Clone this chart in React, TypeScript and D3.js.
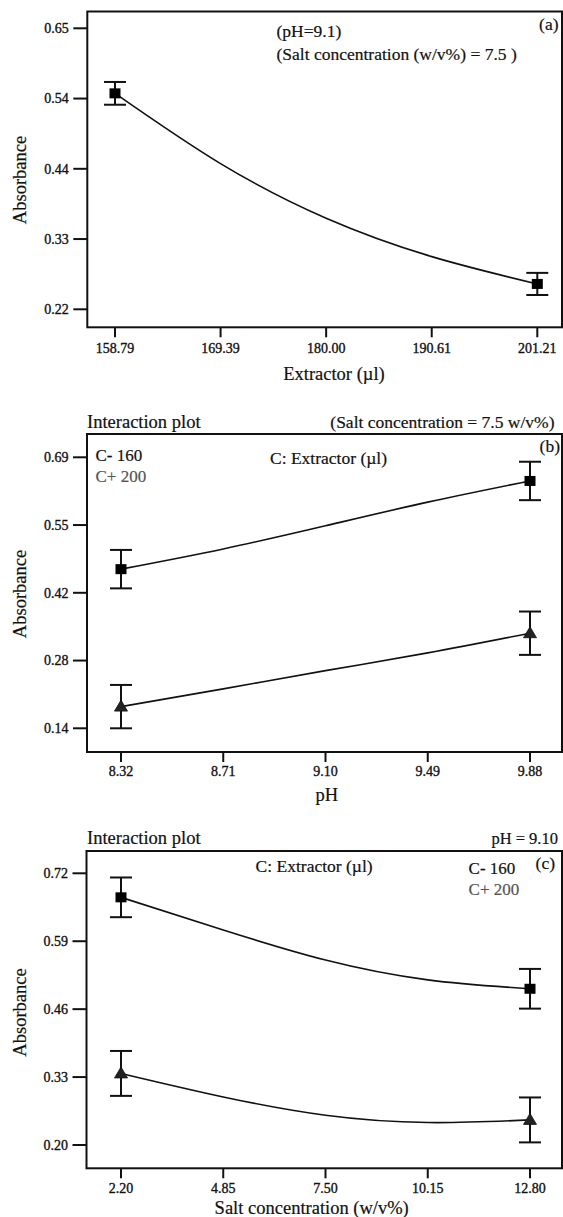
import React from "react";
import * as d3 from "d3";

// ---------- DATA ----------
// Panel (a): Extractor effect
const A_X = [158.79, 201.21];
const A_Y = [0.551, 0.258];
const A_ERR = [0.0175, 0.017];
const A_CURVE_X = [158.79, 169.39, 180.0, 190.61, 201.21];
const A_CURVE_Y = [0.551, 0.443, 0.359, 0.3, 0.258];
const A_XTICKS = [158.79, 169.395, 180.0, 190.605, 201.21];
const A_XLABELS = ["158.79", "169.39", "180.00", "190.61", "201.21"];
const A_YTICKS = [0.219, 0.327, 0.435, 0.543, 0.651];
const A_YLABELS = ["0.22", "0.33", "0.44", "0.54", "0.65"];

// Panel (b): pH x Extractor interaction
const B_X = [8.32, 9.88];
const B_LOW_Y = [0.463, 0.642];
const B_LOW_ERR = [0.039, 0.039];
const B_HIGH_Y = [0.184, 0.333];
const B_HIGH_ERR = [0.044, 0.044];
const B_CURVE_X = [8.32, 8.71, 9.1, 9.49, 9.88];
const B_LOW_CURVE = [0.463, 0.504, 0.551, 0.599, 0.642];
const B_HIGH_CURVE = [0.184, 0.22, 0.257, 0.293, 0.333];
const B_XTICKS = [8.32, 8.71, 9.1, 9.49, 9.88];
const B_XLABELS = ["8.32", "8.71", "9.10", "9.49", "9.88"];
const B_YTICKS = [0.14, 0.2775, 0.415, 0.5525, 0.69];
const B_YLABELS = ["0.14", "0.28", "0.42", "0.55", "0.69"];

// Panel (c): Salt x Extractor interaction
const C_X = [2.2, 12.8];
const C_LOW_Y = [0.674, 0.499];
const C_LOW_ERR = [0.038, 0.038];
const C_HIGH_Y = [0.337, 0.248];
const C_HIGH_ERR = [0.043, 0.043];
const C_CURVE_X = [2.2, 4.85, 7.5, 10.15, 12.8];
const C_LOW_CURVE = [0.674, 0.6115, 0.554, 0.516, 0.499];
const C_HIGH_CURVE = [0.337, 0.292, 0.257, 0.243, 0.248];
const C_XTICKS = [2.2, 4.85, 7.5, 10.15, 12.8];
const C_XLABELS = ["2.20", "4.85", "7.50", "10.15", "12.80"];
const C_YTICKS = [0.2, 0.33, 0.46, 0.59, 0.72];
const C_YLABELS = ["0.20", "0.33", "0.46", "0.59", "0.72"];

// ---------- LAYOUT ----------
const W = 563;
const H = 1217;
const FONT = "'Liberation Serif', 'Times New Roman', serif";
const GRAY = "#555";
const INK = "#111";

type Series = {
  x: number[];
  y: number[];
  err: number[];
  cx: number[];
  cy: number[];
  marker: "square" | "triangle";
};

type Txt = { x: number; y: number; t: string; size: number; anchor?: string; fill?: string };

type PanelProps = {
  frame: { left: number; right: number; top: number; bottom: number };
  xTicks: number[];
  xLabels: string[];
  xPx: [number, number];
  yTicks: number[];
  yLabels: string[];
  yPx: [number, number];
  xLabelBase: number;
  xTitle: string;
  xTitlePos: [number, number];
  yTitlePos: [number, number];
  series: Series[];
  texts: Txt[];
};

function Panel(p: PanelProps) {
  const { frame } = p;
  const x = d3
    .scaleLinear()
    .domain([p.xTicks[0], p.xTicks[p.xTicks.length - 1]])
    .range(p.xPx);
  const y = d3
    .scaleLinear()
    .domain([p.yTicks[0], p.yTicks[p.yTicks.length - 1]])
    .range(p.yPx);
  const line = d3
    .line<[number, number]>()
    .x((d) => x(d[0]))
    .y((d) => y(d[1]))
    .curve(d3.curveNatural);

  return (
    <g>
      {p.series.map((s, i) => (
        <path
          key={"c" + i}
          d={line(s.cx.map((v, j) => [v, s.cy[j]] as [number, number])) || ""}
          fill="none"
          stroke={INK}
          strokeWidth={1.6}
        />
      ))}
      {p.series.map((s, i) =>
        s.x.map((xv, j) => {
          const px = x(xv);
          const py = y(s.y[j]);
          const yt = y(s.y[j] + s.err[j]);
          const yb = y(s.y[j] - s.err[j]);
          return (
            <g key={"m" + i + "_" + j}>
              <line x1={px} x2={px} y1={yt} y2={yb} stroke={INK} strokeWidth={2} />
              <line x1={px - 11} x2={px + 11} y1={yt} y2={yt} stroke={INK} strokeWidth={2} />
              <line x1={px - 11} x2={px + 11} y1={yb} y2={yb} stroke={INK} strokeWidth={2} />
              {s.marker === "square" ? (
                <rect x={px - 5.5} y={py - 5} width={11} height={10} fill="#000" />
              ) : (
                <path
                  d={`M${px},${py - 6.5} L${px + 6.5},${py + 4.5} L${px - 6.5},${py + 4.5} Z`}
                  fill="#222"
                  stroke={INK}
                  strokeWidth={0.8}
                />
              )}
            </g>
          );
        })
      )}
      <rect
        x={frame.left}
        y={frame.top}
        width={frame.right - frame.left}
        height={frame.bottom - frame.top}
        fill="none"
        stroke={INK}
        strokeWidth={2}
      />
      {p.yTicks.map((t, i) => (
        <g key={"yt" + i}>
          <line x1={frame.left - 14} x2={frame.left} y1={y(t)} y2={y(t)} stroke={INK} strokeWidth={2} />
          <text
            x={frame.left - 18.5}
            y={y(t)}
            dy="0.34em"
            textAnchor="end"
            fontSize={14}
            fontFamily={FONT}
            fill={INK}
            stroke={INK}
            strokeWidth={0.35}
          >
            {p.yLabels[i]}
          </text>
        </g>
      ))}
      {p.xTicks.map((t, i) => (
        <g key={"xt" + i}>
          <line x1={x(t)} x2={x(t)} y1={frame.bottom} y2={frame.bottom + 10} stroke={INK} strokeWidth={2} />
          <text
            x={x(t)}
            y={p.xLabelBase}
            textAnchor="middle"
            fontSize={14}
            fontFamily={FONT}
            fill={INK}
            stroke={INK}
            strokeWidth={0.35}
          >
            {p.xLabels[i]}
          </text>
        </g>
      ))}
      <text
        x={p.xTitlePos[0]}
        y={p.xTitlePos[1]}
        textAnchor="middle"
        fontSize={18.5}
        fontFamily={FONT}
        fill={INK}
        stroke={INK}
        strokeWidth={0.2}
      >
        {p.xTitle}
      </text>
      <text
        transform={`translate(${p.yTitlePos[0]},${p.yTitlePos[1]}) rotate(-90)`}
        textAnchor="middle"
        fontSize={18.5}
        fontFamily={FONT}
        fill={INK}
        stroke={INK}
        strokeWidth={0.2}
      >
        Absorbance
      </text>
      {p.texts.map((t, i) => (
        <text
          key={"tx" + i}
          x={t.x}
          y={t.y}
          textAnchor={t.anchor || "start"}
          fontSize={t.size}
          fontFamily={FONT}
          fill={t.fill || INK}
          stroke={t.fill || INK}
          strokeWidth={0.2}
        >
          {t.t}
        </text>
      ))}
    </g>
  );
}

export default function App() {
  return (
    <svg
      width={W}
      height={H}
      viewBox={`0 0 ${W} ${H}`}
      style={{ position: "absolute", left: 0, top: 0, background: "#fff" }}
    >
      <rect x={0} y={0} width={W} height={H} fill="#fff" />
      <Panel
        frame={{ left: 87.3, right: 562, top: 11.5, bottom: 327.3 }}
        xTicks={A_XTICKS}
        xLabels={A_XLABELS}
        xPx={[115, 537.3]}
        yTicks={A_YTICKS}
        yLabels={A_YLABELS}
        yPx={[309.3, 28.3]}
        xLabelBase={352.7}
        xTitle="Extractor (µl)"
        xTitlePos={[334, 379.5]}
        yTitlePos={[26, 180]}
        series={[
          { x: A_X, y: A_Y, err: A_ERR, cx: A_CURVE_X, cy: A_CURVE_Y, marker: "square" },
        ]}
        texts={[
          { x: 276.5, y: 36.7, t: "(pH=9.1)", size: 17.5 },
          { x: 276.5, y: 60, t: "(Salt concentration (w/v%) = 7.5 )", size: 17.5 },
          { x: 558.5, y: 29.5, t: "(a)", size: 17.5, anchor: "end" },
        ]}
      />
      <Panel
        frame={{ left: 87, right: 562, top: 434, bottom: 752 }}
        xTicks={B_XTICKS}
        xLabels={B_XLABELS}
        xPx={[121, 530]}
        yTicks={B_YTICKS}
        yLabels={B_YLABELS}
        yPx={[728.3, 457.3]}
        xLabelBase={776}
        xTitle="pH"
        xTitlePos={[326.7, 801]}
        yTitlePos={[26, 594]}
        series={[
          { x: B_X, y: B_LOW_Y, err: B_LOW_ERR, cx: B_CURVE_X, cy: B_LOW_CURVE, marker: "square" },
          { x: B_X, y: B_HIGH_Y, err: B_HIGH_ERR, cx: B_CURVE_X, cy: B_HIGH_CURVE, marker: "triangle" },
        ]}
        texts={[
          { x: 87, y: 427.5, t: "Interaction plot", size: 18.5 },
          { x: 554.5, y: 427.5, t: "(Salt concentration = 7.5 w/v%)", size: 17.5, anchor: "end" },
          { x: 560, y: 452, t: "(b)", size: 17.5, anchor: "end" },
          { x: 95.5, y: 461, t: "C- 160", size: 17 },
          { x: 95.5, y: 481.7, t: "C+ 200", size: 17, fill: GRAY },
          { x: 270, y: 464, t: "C: Extractor (µl)", size: 17.5 },
        ]}
      />
      <Panel
        frame={{ left: 86.5, right: 562, top: 851, bottom: 1168.3 }}
        xTicks={C_XTICKS}
        xLabels={C_XLABELS}
        xPx={[121, 530]}
        yTicks={C_YTICKS}
        yLabels={C_YLABELS}
        yPx={[1145, 873.3]}
        xLabelBase={1192.7}
        xTitle="Salt concentration (w/v%)"
        xTitlePos={[311.7, 1214]}
        yTitlePos={[26, 1012.5]}
        series={[
          { x: C_X, y: C_LOW_Y, err: C_LOW_ERR, cx: C_CURVE_X, cy: C_LOW_CURVE, marker: "square" },
          { x: C_X, y: C_HIGH_Y, err: C_HIGH_ERR, cx: C_CURVE_X, cy: C_HIGH_CURVE, marker: "triangle" },
        ]}
        texts={[
          { x: 87, y: 844, t: "Interaction plot", size: 18.5 },
          { x: 558, y: 844, t: "pH = 9.10", size: 16.5, anchor: "end" },
          { x: 555, y: 869, t: "(c)", size: 17.5, anchor: "end" },
          { x: 255.6, y: 871.5, t: "C: Extractor (µl)", size: 17.5 },
          { x: 468.6, y: 874, t: "C- 160", size: 17 },
          { x: 468.6, y: 895, t: "C+ 200", size: 17, fill: GRAY },
        ]}
      />
    </svg>
  );
}
